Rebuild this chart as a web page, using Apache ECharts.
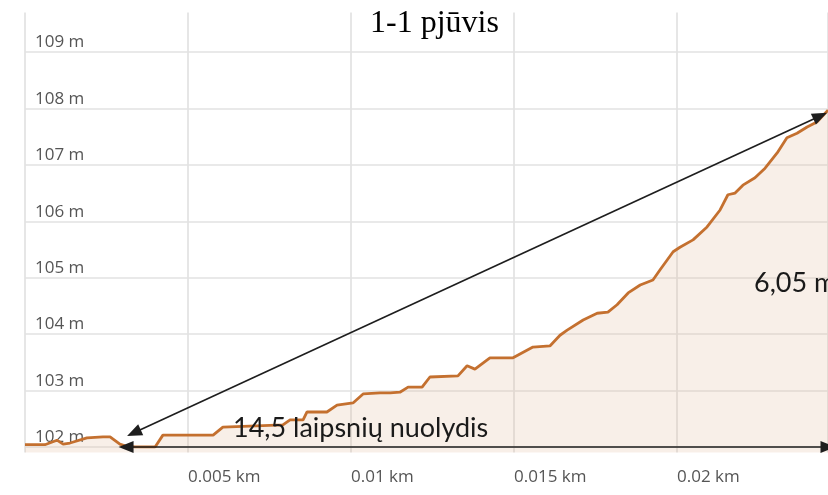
<!DOCTYPE html>
<html><head><meta charset="utf-8">
<script src="https://cdn.jsdelivr.net/npm/echarts@6/dist/echarts.min.js"></script>
<style>html,body{margin:0;padding:0;background:#fff}#c{width:828px;height:495px}</style>
</head><body><div id="c"></div>
<script>
// distance along section, km
const distKm = [0, 0.00061, 0.00098, 0.00117, 0.00138, 0.0019, 0.00239, 0.00261, 0.00291, 0.00307,
  0.00337, 0.00399, 0.00423, 0.00577, 0.00607, 0.00791, 0.00813, 0.00853, 0.00865, 0.00926,
  0.00957, 0.01006, 0.01037, 0.01089, 0.0112, 0.0115, 0.01175, 0.01218, 0.01242, 0.01328,
  0.01356, 0.0138, 0.01426, 0.01497, 0.01558, 0.0161, 0.01641, 0.01663, 0.01712, 0.01755,
  0.01788, 0.01816, 0.0185, 0.01887, 0.01926, 0.01948, 0.01988, 0.02009, 0.02049, 0.02092,
  0.02132, 0.02156, 0.02178, 0.02202, 0.02239, 0.0227, 0.02307, 0.02337, 0.02368, 0.02399,
  0.02429, 0.02463];
// elevation, m
const elevM = [102.04, 102.04, 102.12, 102.05, 102.07, 102.16, 102.18, 102.18, 102.05, 102.02,
  102.0, 102.0, 102.21, 102.21, 102.35, 102.39, 102.48, 102.48, 102.62, 102.62,
  102.74, 102.78, 102.94, 102.96, 102.96, 102.97, 103.06, 103.06, 103.24, 103.26,
  103.44, 103.38, 103.58, 103.58, 103.77, 103.79, 103.98, 104.07, 104.25, 104.37,
  104.39, 104.52, 104.73, 104.87, 104.96, 105.14, 105.46, 105.54, 105.67, 105.9,
  106.2, 106.47, 106.5, 106.64, 106.77, 106.94, 107.21, 107.48, 107.56, 107.67,
  107.76, 107.97];
const yGridValues = [102, 103, 104, 105, 106, 107, 108, 109];
const xTickStep = 0.005;
const titleText = '1-1 pjūvis';
const slopeText = '14,5 laipsnių nuolydis';
const heightText = '6,05 m';
const slopeArrow = [[0.00334, 102.25], [0.02439, 107.866]];
const baseArrow = [[0.0031, 102.0], [0.02463, 102.0]];

const chart = echarts.init(document.getElementById('c'), null, {renderer: 'canvas'});
const lineData = distKm.map((d, i) => [d, elevM[i]]);
const arrowEnd = {symbol: 'triangle', symbolSize: [12, 15]};
chart.setOption({
  animation: false,
  backgroundColor: '#ffffff',
  grid: {left: 25, right: 0, top: 12.5, bottom: 42.4, containLabel: false},
  xAxis: {
    type: 'value', min: 0, max: 0.02463, interval: xTickStep,
    axisLine: {show: false}, axisTick: {show: false},
    splitLine: {show: true, lineStyle: {color: '#dedede', width: 1.5}},
    axisLabel: {
      showMinLabel: false, showMaxLabel: false, align: 'left', margin: 16,
      fontFamily: 'Open Sans', fontSize: 17, color: '#555',
      formatter: v => v + ' km'
    }
  },
  yAxis: {
    type: 'value', min: 101.9, max: 109.7, splitNumber: 8,
    axisLine: {show: false}, axisTick: {show: false},
    splitLine: {show: false},
    axisLabel: {
      inside: true, margin: 10, showMinLabel: false, showMaxLabel: false,
      verticalAlign: 'bottom', padding: [0, 0, 1, 0],
      fontFamily: 'Open Sans', fontSize: 17, color: '#555',
      formatter: v => v + ' m'
    }
  },
  series: [
    {
      type: 'line', data: [], z: 1, silent: true,
      markLine: {
        silent: true, z: 1, symbol: 'none', label: {show: false},
        lineStyle: {color: '#e2e2e2', width: 1.5, type: 'solid'},
        data: yGridValues.map(v => ({yAxis: v}))
      }
    },
    {
      type: 'line', data: lineData, z: 2, showSymbol: false, silent: true,
      lineStyle: {color: '#c4702f', width: 2.8},
      areaStyle: {color: 'rgba(225,185,150,0.32)'}
    },
    {
      type: 'line', data: [], z: 10, silent: true,
      markLine: {
        silent: true, z: 10, label: {show: false},
        lineStyle: {color: '#1e1e1e', width: 1.7, type: 'solid'},
        data: [
          [Object.assign({coord: slopeArrow[0]}, arrowEnd), Object.assign({coord: slopeArrow[1]}, arrowEnd)],
          [Object.assign({coord: baseArrow[0]}, arrowEnd), Object.assign({coord: baseArrow[1]}, arrowEnd)]
        ]
      }
    }
  ],
  graphic: [
    {type: 'text', z: 20, style: {text: titleText, x: 370, y: 24, textVerticalAlign: 'middle',
      font: '32px "Liberation Serif"', fill: '#000'}},
    {type: 'text', z: 20, style: {text: slopeText, x: 233, y: 428, textVerticalAlign: 'middle',
      font: '27px Lato', fill: '#1a1a1a'}},
    {type: 'text', z: 20, style: {text: heightText, x: 754, y: 283, textVerticalAlign: 'middle',
      font: '27px Lato', fill: '#1a1a1a'}}
  ]
});
</script></body></html>
